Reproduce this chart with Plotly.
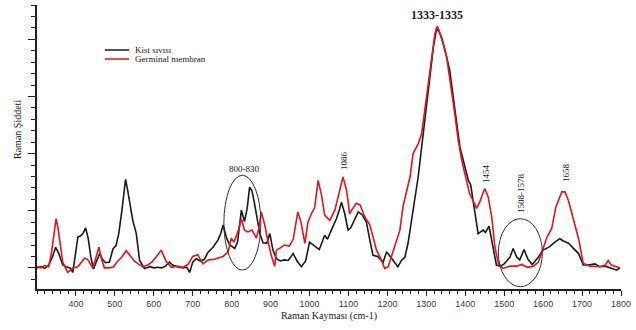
import plotly.graph_objects as go

# ---- data ----
kist_x = [300, 310, 320, 330, 340, 348, 356, 366, 375, 385, 392, 398, 405, 412, 418, 425, 432, 438, 445, 452,
          461, 468, 476, 486, 495, 503, 510, 518, 527.5, 533, 538, 546, 555, 563.5, 576, 590, 600, 610, 620, 630,
          640, 648, 660, 675, 685, 692, 700, 709, 720, 730, 739, 752, 765, 772, 778, 787, 795, 808, 815, 820,
          825, 833, 840, 846, 852, 858, 863.5, 872, 880.5, 890, 898, 906, 915, 925, 935, 945, 958, 968, 979, 990,
          1000, 1006, 1013, 1025, 1039, 1046, 1056, 1069, 1076, 1082, 1090, 1099, 1106, 1116, 1125, 1135, 1146,
          1155, 1163, 1175, 1189, 1198, 1207, 1219, 1227, 1236, 1245, 1253, 1266, 1279, 1292, 1305, 1318, 1326,
          1332, 1340, 1348, 1360, 1369, 1378, 1386, 1399, 1408, 1414, 1420, 1427, 1433, 1446, 1452, 1461, 1471,
          1480, 1490, 1500, 1515, 1523, 1532, 1540, 1551, 1561, 1572, 1588, 1600, 1617, 1630, 1643, 1652, 1665,
          1678, 1691, 1703, 1715, 1733, 1745, 1760, 1775, 1789, 1797]
kist_y = [0.0, 0.02, -0.01, 0.05, 0.2, 0.36, 0.25, 0.05, 0.02, 0.0, -0.08, 0.2, 0.54, 0.56, 0.6, 0.70, 0.5, 0.2, -0.02, 0.1,
          0.25, 0.15, 0.09, 0.1, 0.33, 0.39, 0.6, 1.0, 1.55, 1.35, 1.17, 0.83, 0.60, 0.13, -0.01, 0.02, 0.0, 0.01, 0.0, 0.03,
          0.1, 0.05, 0.02, 0.0, 0.01, -0.08, 0.1, 0.16, 0.12, 0.15, 0.27, 0.36, 0.49, 0.6, 0.75, 0.52, 0.40, 0.34, 0.45, 0.7,
          1.01, 0.81, 1.05, 1.41, 1.35, 1.15, 0.96, 0.61, 0.44, 0.43, 0.6, 0.31, 0.16, 0.12, 0.14, 0.13, 0.25, 0.12, 0.02, 0.12,
          0.45, 0.42, 0.37, 0.32, 0.57, 0.5, 0.66, 0.86, 1.0, 1.15, 0.96, 0.66, 0.7, 0.86, 0.98, 0.93, 0.80,
          0.48, 0.22, 0.2, 0.10, 0.28, 0.2, 0.10, 0.02, 0.13, 0.19, 0.43, 1.01, 1.59, 2.35, 3.11, 3.86, 4.18,
          4.15, 4.0, 3.81, 3.46, 2.99, 2.52, 2.12, 1.77, 1.53, 1.45, 1.18, 0.83, 0.60, 0.66, 0.62, 0.73, 0.37,
          0.05, 0.03, 0.07, 0.19, 0.34, 0.19, 0.14, 0.32, 0.15, 0.06, 0.19, 0.31, 0.37, 0.45, 0.51, 0.47, 0.43,
          0.34, 0.25, 0.05, 0.05, 0.07, 0.02, 0.03, 0.0, -0.04, 0.0]

germ_x = [300, 310, 320, 330, 338, 343, 349, 354, 360, 366, 379, 392, 405, 415, 422, 430, 443, 450, 459, 466,
          473, 485, 497, 505, 519, 529, 538, 550, 560, 571, 585, 595, 605, 612, 619, 626, 632, 645, 660, 675,
          688, 700, 713, 726, 740, 755, 768, 778, 791, 799, 806, 816, 825, 833, 842, 852, 863.5, 870, 876, 885,
          893, 902, 910.5, 915, 925, 936, 948, 958, 970, 978, 988, 996, 1005, 1013, 1022, 1030, 1039, 1052, 1065,
          1078, 1086, 1095, 1103, 1112, 1120, 1130, 1142, 1155, 1163, 1172, 1185, 1193, 1202, 1210, 1223, 1232,
          1240, 1250, 1258, 1266, 1279, 1288, 1300, 1313, 1322, 1328, 1339, 1352, 1360, 1365, 1373, 1382, 1391,
          1403, 1411, 1420, 1429, 1437, 1444, 1450, 1459, 1468, 1476, 1485, 1497, 1515, 1532, 1545, 1560, 1575,
          1588, 1597, 1610, 1622, 1633, 1648, 1656, 1665, 1678, 1691, 1703, 1720, 1745, 1760, 1767, 1775, 1797]
germ_y = [0.02, 0.0, 0.04, 0.02, 0.3, 0.6, 0.86, 0.7, 0.35, 0.1, -0.08, 0.0, 0.02, 0.1, 0.17, 0.15, 0.0, 0.15, 0.36, 0.15,
          0.0, 0.0, 0.02, 0.1, 0.2, 0.30, 0.22, 0.12, 0.07, 0.02, 0.05, 0.1, 0.18, 0.25, 0.31, 0.2, 0.11, 0.01, 0.03, 0.01,
          0.06, 0.2, 0.23, 0.07, 0.14, 0.15, 0.18, 0.2, 0.28, 0.52, 0.45, 0.63, 0.86, 0.66, 0.63, 0.66, 0.52, 0.7, 0.98, 0.75,
          0.47, 0.21, 0.03, 0.31, 0.35, 0.40, 0.38, 0.5, 0.98, 0.8, 0.43, 0.80, 0.95, 1.05, 1.53, 1.30, 0.92, 0.83, 1.01,
          1.39, 1.59, 1.36, 0.95, 1.05, 1.13, 1.1, 0.89, 0.75, 0.54, 0.31, 0.13, -0.01, 0.02, 0.19, 0.45, 0.66,
          1.07, 1.35, 1.59, 2.0, 2.17, 2.35, 2.99, 3.63, 4.10, 4.23, 4.04, 3.69, 3.34, 3.05, 2.70, 2.23, 1.88,
          1.53, 1.30, 1.18, 1.04, 1.15, 1.3, 1.39, 1.24, 0.89, 0.37, 0.08, -0.01, 0.03, 0.03, 0.06, 0.01, 0.03,
          0.1, 0.28, 0.54, 0.69, 1.07, 1.33, 1.33, 1.18, 0.86, 0.51, 0.08, 0.03, 0.02, 0.05, 0.13, 0.05, 0.0]

series_names = ["Kist sıvısı", "Germinal membran"]
series_colors = ["#1a1a1a", "#e3141c"]

x_ticks = [400, 500, 600, 700, 800, 900, 1000, 1100, 1200, 1300, 1400, 1500, 1600, 1700, 1800]

# peak labels: (text, x, y, angle, bold)
peak_labels = [("1333-1335", 1328, 4.42, 0, True),
               ("800-830", 832, 1.73, 0, False),
               ("1086", 1090, 1.88, -90, False),
               ("1454", 1453, 1.66, -90, False),
               ("1508-1578", 1543, 1.31, -90, False),
               ("1658", 1659, 1.66, -90, False)]
# highlighted regions (x0, x1, y0, y1)
regions = [(780, 875, -0.04, 1.62), (1485, 1598, -0.33, 0.86)]

W, H = 636, 330
ML, MR, MT, MB = 37, 15, 5, 41
PW, PH = W - ML - MR, H - MT - MB


def px2paper(px, py):
    return (px - ML) / PW, 1 - (py - MT) / PH


fig = go.Figure()
fig.add_trace(go.Scatter(x=kist_x, y=kist_y, mode="lines", name=series_names[0],
                         line=dict(color=series_colors[0], width=1.6), showlegend=False))
fig.add_trace(go.Scatter(x=germ_x, y=germ_y, mode="lines", name=series_names[1],
                         line=dict(color=series_colors[1], width=1.6), showlegend=False))

serif = "Liberation Serif"

# custom compact legend
for i, (nm, col) in enumerate(zip(series_names, series_colors)):
    py = 50 + 9 * i
    x0, y0 = px2paper(105, py)
    x1, _ = px2paper(129, py)
    fig.add_shape(type="line", xref="paper", yref="paper", x0=x0, x1=x1, y0=y0, y1=y0,
                  line=dict(color=col, width=1.5))
    tx, ty = px2paper(133, py)
    fig.add_annotation(xref="paper", yref="paper", x=tx, y=ty, text=nm, showarrow=False,
                       xanchor="left", yanchor="middle", font=dict(family=serif, size=9, color="#222"))

for txt, lx, ly, ang, bold in peak_labels:
    fig.add_annotation(x=lx, y=ly, text=f"<b>{txt}</b>" if bold else txt, showarrow=False,
                       textangle=ang, xanchor="center", yanchor="middle",
                       font=dict(family=serif, size=12 if bold else 9, color="#222"))

for x0, x1, y0, y1 in regions:
    fig.add_shape(type="circle", xref="x", yref="y", x0=x0, x1=x1, y0=y0, y1=y1,
                  line=dict(color="#333", width=1))

ytx, yty = px2paper(17, 130)
fig.add_annotation(xref="paper", yref="paper", x=ytx, y=yty, text="Raman Şiddeti", textangle=-90,
                   showarrow=False, xanchor="center", yanchor="middle",
                   font=dict(family=serif, size=10, color="#222"))

fig.update_layout(
    width=W, height=H,
    margin=dict(l=ML, r=MR, t=MT, b=MB),
    paper_bgcolor="white", plot_bgcolor="white",
    showlegend=False,
    xaxis=dict(range=[300, 1800], tickvals=x_ticks, ticktext=[str(v) for v in x_ticks],
               showgrid=False, zeroline=False, showline=True, linecolor="#222", linewidth=1.5,
               ticks="outside", ticklen=5, tickwidth=1, tickcolor="#222",
               minor=dict(dtick=20, tick0=300, ticks="outside", ticklen=3, tickcolor="#222", showgrid=False),
               tickfont=dict(family="Liberation Sans", size=9, color="#444"),
               title=dict(text="Raman Kayması (cm-1)", font=dict(family=serif, size=10, color="#222"), standoff=4)),
    yaxis=dict(range=[-0.37, 4.60], tick0=0, dtick=1, showticklabels=False,
               showgrid=False, zeroline=False, showline=True, linecolor="#222", linewidth=1.5,
               ticks="outside", ticklen=7, tickwidth=1, tickcolor="#222",
               minor=dict(dtick=0.2, tick0=0, ticks="outside", ticklen=4, tickcolor="#222", showgrid=False)),
)

fig.write_html("out.html")
